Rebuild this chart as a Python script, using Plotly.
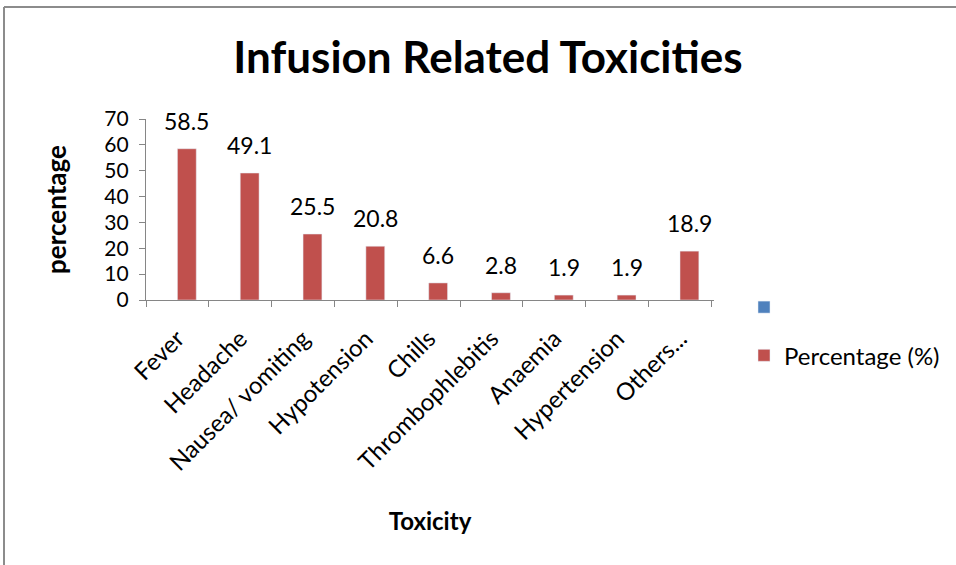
import plotly.graph_objects as go

categories = ["Fever", "Headache", "Nausea/ vomiting", "Hypotension", "Chills",
              "Thrombophlebitis", "Anaemia", "Hypertension", "Others..."]
percentages = [58.5, 49.1, 25.5, 20.8, 6.6, 2.8, 1.9, 1.9, 18.9]
empty_series = [None] * len(categories)
y_ticks = [0, 10, 20, 30, 40, 50, 60, 70]

FONT = "Lato"
RED = "#C0504D"
BLUE = "#4F81BD"
AXIS = "#868686"

fig = go.Figure()
fig.add_trace(go.Bar(x=categories, y=empty_series, name=" ", marker_color=BLUE,
                     legendgroup="a", showlegend=True))
fig.add_trace(go.Bar(x=categories, y=percentages, name="Percentage (%)", marker_color=RED,
                     legendgroup="b"))

for c, v in zip(categories, percentages):
    fig.add_annotation(x=c, y=v, xref="x", yref="y", text=f"{v}", showarrow=False,
                       yanchor="bottom", xshift=9.5, yshift=12,
                       font=dict(family=FONT, size=23, color="#000000"))

L, R, T, B = 146, 956 - 714, 119, 565 - 300
W = 956 - L - R
H = 565 - T - B

fig.update_layout(
    width=956, height=565,
    margin=dict(l=L, r=R, t=T, b=B, autoexpand=False),
    paper_bgcolor="white", plot_bgcolor="white",
    barmode="group", bargap=0.4, bargroupgap=0,
    font=dict(family=FONT, size=24, color="#000000"),
    title=dict(text="<b>Infusion Related Toxicities</b>", x=488 / 956, xanchor="center",
               xref="container", y=1 - 58 / 565, yanchor="middle",
               font=dict(family=FONT, size=44, color="#000000")),
    legend=dict(x=(744 - L) / W, xanchor="left", y=(300 - 285) / H, yanchor="top",
                font=dict(family=FONT, size=24, color="#000000"),
                tracegroupgap=14, itemwidth=30, bgcolor="rgba(0,0,0,0)"),
    xaxis=dict(showline=True, linecolor=AXIS, linewidth=1.3, ticks="outside",
               tickson="boundaries", tickcolor=AXIS, ticklen=6, tickangle=-45,
               ticklabelstandoff=14,
               tickfont=dict(family=FONT, size=24, color="#000000"),
               showgrid=False, automargin=False,
               title=dict(text="<b>Toxicity</b>", font=dict(family=FONT, size=24),
                          standoff=38)),
    yaxis=dict(range=[0, 70], tickvals=y_ticks, showline=True, linecolor=AXIS,
               linewidth=1.3, ticks="outside", tickcolor=AXIS, ticklen=6,
               ticklabelstandoff=6,
               tickfont=dict(family=FONT, size=21, color="#000000"),
               showgrid=False, zeroline=False, automargin=False,
               title=dict(text="<b>percentage</b>", font=dict(family=FONT, size=26),
                          standoff=30)),
)

# chart border (top and left edges visible)
fig.add_shape(type="line", xref="paper", yref="paper",
              x0=(4 - L) / W, x1=(960 - L) / W, y0=(300 - 7) / H, y1=(300 - 7) / H,
              line=dict(color="#8c8c8c", width=2))
fig.add_shape(type="line", xref="paper", yref="paper",
              x0=(4 - L) / W, x1=(4 - L) / W, y0=(300 - 7) / H, y1=(300 - 570) / H,
              line=dict(color="#8c8c8c", width=2))

fig.write_html("out.html", config={"displayModeBar": False},
               post_script="document.body.style.margin='0';")
